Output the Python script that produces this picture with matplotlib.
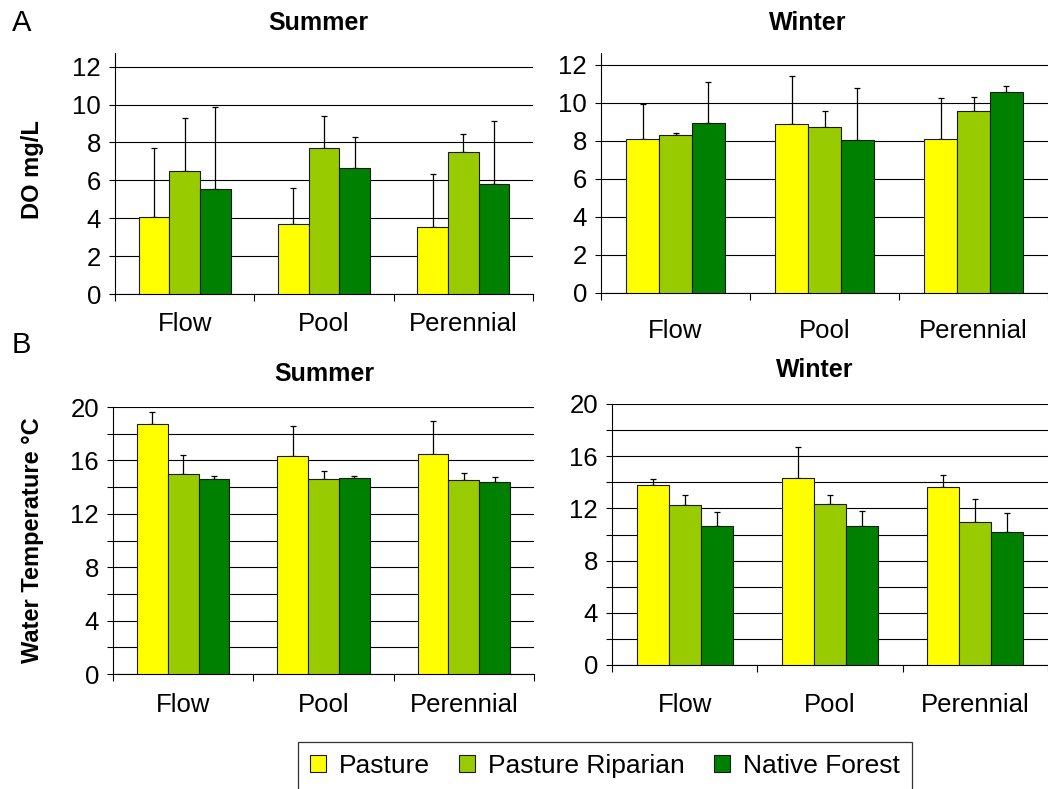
import matplotlib
matplotlib.use('Agg')
import matplotlib.pyplot as plt
import numpy as np
from matplotlib.ticker import MultipleLocator, FixedLocator, NullFormatter

plt.rcParams['font.family'] = ['Liberation Sans', 'DejaVu Sans']

# Données
categories = ['Flow', 'Pool', 'Perennial']
series = ['Pasture', 'Pasture Riparian', 'Native Forest']
colors = ['#FFFF00', '#99CC00', '#008000']

# DO mg/L - lignes : Pasture, Pasture Riparian, Native Forest
do_summer = [[4.08, 3.68, 3.55], [6.51, 7.69, 7.51], [5.54, 6.67, 5.79]]
do_summer_err = [[3.64, 1.92, 2.80], [2.76, 1.71, 0.95], [4.32, 1.60, 3.36]]
do_winter = [[8.09, 8.86, 8.09], [8.30, 8.71, 9.55], [8.95, 8.02, 10.56]]
do_winter_err = [[1.84, 2.53, 2.14], [0.09, 0.84, 0.75], [2.12, 2.74, 0.30]]

# Water temperature
temp_summer = [[18.73, 16.31, 16.51], [14.99, 14.59, 14.54], [14.59, 14.66, 14.36]]
temp_summer_err = [[0.87, 2.27, 2.42], [1.44, 0.65, 0.55], [0.25, 0.18, 0.38]]
temp_winter = [[13.77, 14.30, 13.67], [12.24, 12.36, 10.96], [10.65, 10.65, 10.17]]
temp_winter_err = [[0.46, 2.41, 0.86], [0.76, 0.64, 1.76], [1.05, 1.15, 1.45]]

W, H = 1048, 789
fig = plt.figure(figsize=(W / 100, H / 100), dpi=100)


def axes_px(left, right, top, bottom):
    return fig.add_axes([left / W, 1 - bottom / H, (right - left) / W, (bottom - top) / H])


def panel(ax, vals, errs, ymax, major, minor, labelpad):
    x = np.arange(len(categories)) + 0.5
    width = 0.22
    for i in range(len(series)):
        ax.bar(x + (i - 1) * width, vals[i], width, color=colors[i],
               edgecolor='#1a1a1a', linewidth=0.8, zorder=3, label=series[i])
        ax.errorbar(x + (i - 1) * width, vals[i],
                    yerr=[np.zeros(len(categories)), errs[i]],
                    fmt='none', ecolor='black', elinewidth=0.9, capsize=2.5,
                    capthick=0.9, zorder=2)
    ax.set_xlim(0, 3)
    ax.set_ylim(0, ymax)
    ax.yaxis.set_major_locator(MultipleLocator(major))
    ax.yaxis.set_minor_locator(MultipleLocator(minor))
    ax.yaxis.set_minor_formatter(NullFormatter())
    ax.grid(axis='y', which='both', color='black', linewidth=0.8, zorder=0)
    ax.set_axisbelow(True)
    ax.xaxis.set_major_locator(FixedLocator([0, 1, 2, 3]))
    ax.xaxis.set_major_formatter(NullFormatter())
    ax.xaxis.set_minor_locator(FixedLocator(x))
    ax.set_xticklabels(categories, minor=True)
    ax.tick_params(axis='x', which='minor', length=0, pad=labelpad, labelsize=18.5)
    ax.tick_params(axis='x', which='major', length=5, width=0.8)
    ax.tick_params(axis='y', which='both', length=4, width=0.8, labelsize=18.5, pad=6)
    for s in ['top', 'right']:
        ax.spines[s].set_visible(False)
    for s in ['left', 'bottom']:
        ax.spines[s].set_linewidth(0.8)


ax1 = axes_px(115, 533, 294 - 12.7 * 18.94, 294)
panel(ax1, do_summer, do_summer_err, 12.7, 2, 2, 13)
ax2 = axes_px(601, 1048, 293 - 12.6 * 19.03, 293)
panel(ax2, do_winter, do_winter_err, 12.6, 2, 2, 19)
ax3 = axes_px(113, 534, 407, 674)
panel(ax3, temp_summer, temp_summer_err, 20, 4, 2, 14)
ax4 = axes_px(612, 1048, 404, 665)
panel(ax4, temp_winter, temp_winter_err, 20, 4, 2, 20)

# Titres et étiquettes
def ftext(x, y, s, **kw):
    fig.text(x / W, 1 - y / H, s, **kw)

ftext(12, 31, 'A', fontsize=21, va='baseline')
ftext(12, 353, 'B', fontsize=21, va='baseline')
ftext(318, 30, 'Summer', fontsize=18, fontweight='bold', ha='center', va='baseline')
ftext(808, 30, 'Winter', fontsize=18, fontweight='bold', ha='center', va='baseline')
ftext(324, 381, 'Summer', fontsize=18, fontweight='bold', ha='center', va='baseline')
ftext(815, 377, 'Winter', fontsize=18, fontweight='bold', ha='center', va='baseline')
ftext(33, 170, 'DO mg/L', fontsize=17, fontweight='bold', rotation=90, ha='center', va='center')
ftext(33, 540, 'Water Temperature \u00b0C', fontsize=17, fontweight='bold', rotation=90,
      ha='center', va='center')

handles, labels = ax1.get_legend_handles_labels()
leg = fig.legend(handles, labels, loc='center', ncol=3,
                 bbox_to_anchor=(605 / W, 1 - 766 / H), fontsize=19,
                 frameon=True, fancybox=False, edgecolor='black',
                 handlelength=0.6, handleheight=0.6, handletextpad=0.5,
                 columnspacing=1.1, borderpad=0.45, borderaxespad=0)
leg.get_frame().set_linewidth(0.9)

fig.savefig('out.png', dpi=100)
